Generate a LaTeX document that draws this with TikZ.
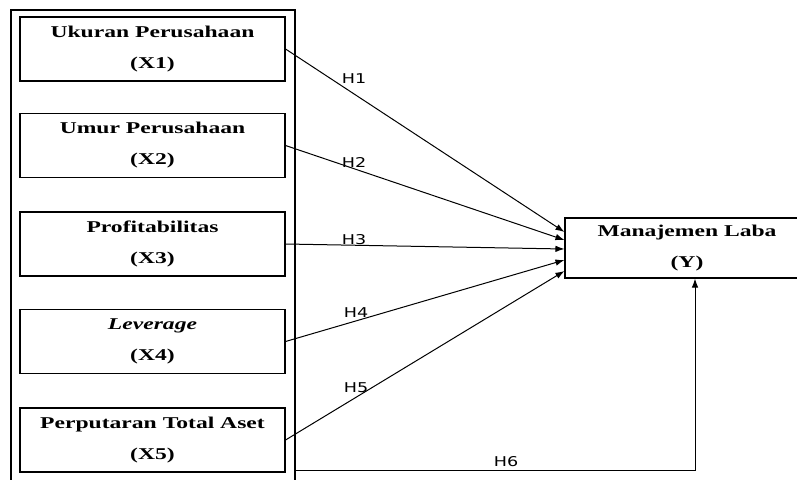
\documentclass[tikz,border=0pt]{standalone}
\usepackage{fontspec}
\setmainfont{Liberation Serif}
\newfontfamily\boxfont[FakeStretch=1.43]{Liberation Serif}
\newfontfamily\labfont[FakeStretch=1.3]{DejaVu Sans}
\usetikzlibrary{arrows.meta}
\begin{document}
\begin{tikzpicture}[x=1pt,y=-1pt,
  varbox/.style={draw, line width=1.1pt, minimum width=265pt, minimum height=64pt, inner sep=0pt, align=center,
    font=\boxfont\bfseries\fontsize{16.5}{31}\selectfont},
  hlab/.style={font=\labfont\fontsize{13.5}{15}\selectfont, inner sep=0pt},
  arr/.style={line width=1pt, -{Latex[length=9pt,width=6.5pt]}}]
\clip (0,0) rectangle (797,479);
\fill[white] (0,0) rectangle (797,479);
\node[draw, line width=1.4pt, minimum width=284pt, minimum height=490pt, inner sep=0pt] (outer) at (153,255) {};
\node[varbox] (X1) at (152.5,49) {Ukuran Perusahaan\\(X1)};
\node[varbox] (X2) at (152.5,145.5) {Umur Perusahaan\\(X2)};
\node[varbox] (X3) at (152.5,244) {Profitabilitas\\(X3)};
\node[varbox] (X4) at (152.5,341.5) {\textit{Leverage}\\(X4)};
\node[varbox] (X5) at (152.5,440) {Perputaran Total Aset\\(X5)};
\node[varbox, minimum width=244pt, minimum height=60pt] (Y) at (687,248) {Manajemen Laba\\(Y)};
\draw[arr] (X1.east) -- ([yshift=16pt]Y.west);
\draw[arr] (X2.east) -- ([yshift=8pt]Y.west);
\draw[arr] (X3.east) -- ([yshift=-1pt]Y.west);
\draw[arr] (X4.east) -- ([yshift=-12pt]Y.west);
\draw[arr] (X5.east) -- ([yshift=-23pt]Y.west);
\coordinate (h6s) at (295,470);
\draw[arr] (h6s) -| ([xshift=8pt]Y.south);
\node[hlab] (h1) at (354,79) {H1};
\node[hlab] (h2) at (354,162) {H2};
\node[hlab] (h3) at (354,240) {H3};
\node[hlab] (h4) at (356,313) {H4};
\node[hlab] (h5) at (356,388) {H5};
\node[hlab] (h6) at (506,462) {H6};
\end{tikzpicture}
\end{document}
